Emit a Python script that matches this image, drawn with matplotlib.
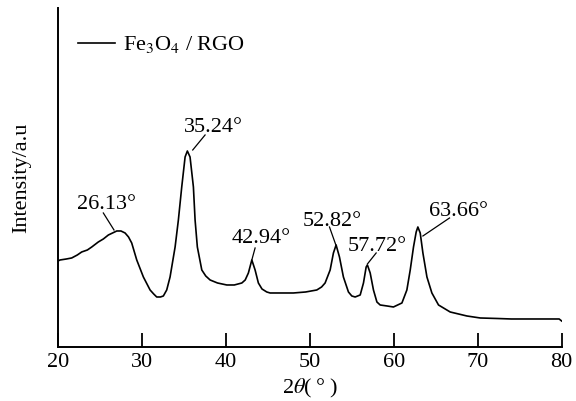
import numpy as np
import matplotlib.pyplot as plt

plt.rcParams['font.family'] = ['Liberation Serif', 'DejaVu Serif']
plt.rcParams['mathtext.fontset'] = 'stix'

# XRD pattern of Fe3O4 / RGO (arbitrary units)
two_theta = [20.0, 20.24, 21.0, 21.63, 22.3, 22.82, 23.5, 24.02, 24.8, 25.4, 26.0, 26.5, 27.0,
             27.5, 27.99, 28.4, 28.78, 29.38, 30.17, 30.97, 31.4, 31.76, 32.2, 32.55, 32.95,
             33.35, 33.95, 34.34, 34.74, 35.14, 35.41, 35.73, 36.13, 36.33, 36.6, 37.13,
             37.6, 38.12, 39.0, 40.11, 41.0, 41.9, 42.3, 42.68, 43.09, 43.48, 43.87, 44.3,
             44.87, 45.27, 46.5, 48.04, 49.5, 50.83, 51.4, 51.82, 52.42, 52.81, 53.13,
             53.53, 54.0, 54.6, 55.0, 55.4, 56.0, 56.39, 56.71, 56.86, 57.19, 57.58,
             57.99, 58.38, 59.2, 59.96, 60.97, 61.56, 61.96, 62.35, 62.67, 62.87, 63.15,
             63.47, 63.95, 64.54, 65.33, 66.72, 68.71, 70.3, 72.3, 74.0, 75.5, 77.5, 79.7, 80.0]
intensity = [86, 87, 88, 89, 92, 95, 97, 100, 105, 108, 112, 114, 116,
             116, 114, 110, 104, 87, 70, 57, 53, 50, 50, 51, 57,
             70, 100, 127, 160, 190, 196, 190, 160, 127, 100, 77,
             71, 67, 64, 62, 62, 64, 67, 74, 87, 77, 64, 58,
             55, 54, 54, 54, 55, 57, 60, 64, 77, 94, 102,
             90, 70, 55, 51, 50, 52, 64, 80, 82, 74, 57,
             45, 42, 41, 40, 44, 57, 77, 100, 115, 120, 114,
             94, 70, 54, 42, 35, 31, 29, 28.5, 28, 28, 28, 28, 26]

peak_labels = ['26.13°', '35.24°', '42.94°', '52.82°', '57.72°', '63.66°']
# leader line: (peak end), (label end); label anchor (centre, baseline)
leader_peak = [(26.67, 117), (36.05, 197), (43.09, 87), (53.10, 102), (56.86, 83), (63.47, 111)]
leader_text = [(25.40, 134), (37.52, 212), (43.48, 99), (52.34, 120), (57.90, 94), (66.64, 129)]
label_pos = [(25.72, 138), (38.55, 215), (44.25, 104), (52.66, 120.5), (58.02, 95.5), (67.74, 130.5)]

fig = plt.figure(figsize=(5.76, 4.01), dpi=100)
ax = fig.add_axes([0.1007, 0.1347, 0.8744, 0.8454])

ax.plot(two_theta, intensity, color='black', lw=1.2, label=r'Fe$_3$O$_4$ / RGO')

for lab, p0, p1, tp in zip(peak_labels, leader_peak, leader_text, label_pos):
    ax.plot([p0[0], p1[0]], [p0[1], p1[1]], color='black', lw=0.9)
    ax.text(tp[0], tp[1], lab, ha='center', va='baseline', fontsize=16)

ax.set_xlim(20, 80)
ax.set_ylim(0, 339)
ax.set_xticks(np.arange(20, 81, 10))
ax.set_yticks([])
ax.tick_params(axis='x', direction='in', length=10, width=1.3, labelsize=16, pad=4)
for side in ['top', 'right']:
    ax.spines[side].set_visible(False)
for side in ['left', 'bottom']:
    ax.spines[side].set_linewidth(1.4)

ax.set_xlabel('2$\\theta$(\u2009°\u2009)', fontsize=16, labelpad=4)
ax.set_ylabel('Intensity/a.u', fontsize=16, labelpad=19)

ax.legend(loc='center left', bbox_to_anchor=(0.04, 0.891), frameon=False, fontsize=16,
          handlelength=1.65, handletextpad=0.35, borderpad=0, borderaxespad=0)

fig.savefig('out.png', dpi=100)
